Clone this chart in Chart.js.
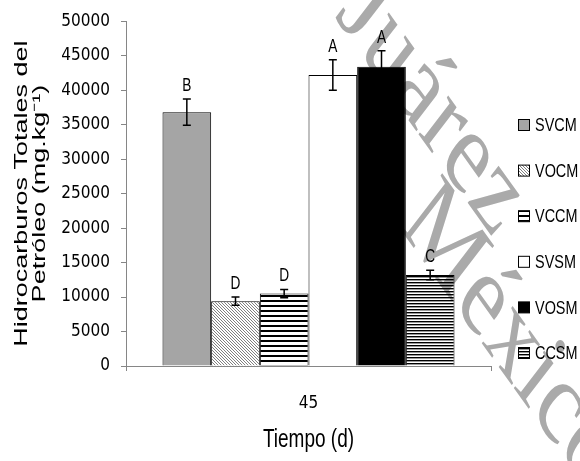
<!DOCTYPE html>
<html>
<head>
<meta charset="utf-8">
<script src="https://cdn.jsdelivr.net/npm/chart.js@4.4.0/dist/chart.umd.min.js"></script>
<style>
  html, body { margin: 0; padding: 0; background: #fff; }
  #wrap { width: 580px; height: 461px; }
</style>
</head>
<body>
<div id="wrap"><canvas id="myChart" width="580" height="461"></canvas></div>
<script>
// data
var categories = ['45'];
var series = ['SVCM', 'VOCM', 'VCCM', 'SVSM', 'VOSM', 'CCSM'];
var means = [36800, 9400, 10500, 42200, 43400, 13200];
var errors = [1900, 600, 600, 2200, 2300, 700];
var letters = ['B', 'D', 'D', 'A', 'A', 'C'];
var yMax = 50000, yStep = 5000;
var yTitle = ['Hidrocarburos Totales del', 'Petróleo (mg.kg⁻¹)'];
var xTitle = 'Tiempo (d)';
var watermark = ['Juárez', 'México'];

var COND = '"DejaVu Sans Condensed", "DejaVu Sans", sans-serif';
var SANS = '"Liberation Sans", Arial, sans-serif';
var SQUEEZE = 0.76; // the source figure is squeezed sideways
var ctx = document.getElementById('myChart').getContext('2d');

function makePattern(w, h, draw) {
  var c = document.createElement('canvas');
  c.width = w; c.height = h;
  var g = c.getContext('2d');
  g.fillStyle = '#fff';
  g.fillRect(0, 0, w, h);
  draw(g);
  return ctx.createPattern(c, 'repeat');
}

var diag = makePattern(3, 3, function (g) {
  g.fillStyle = '#808080';
  for (var i = 0; i < 3; i++) g.fillRect(i, i, 1, 1);
});
var stripes = makePattern(1, 5, function (g) {
  g.fillStyle = '#000';
  g.fillRect(0, 0, 1, 2);
});
var fineStripes = makePattern(1, 3, function (g) {
  g.fillStyle = '#000';
  g.fillRect(0, 0, 1, 1);
  g.fillStyle = '#9a9a9a';
  g.fillRect(0, 1, 1, 1);
});
var fills = ['#a5a5a5', diag, stripes, '#ffffff', '#000000', fineStripes];

var datasets = series.map(function (name, i) {
  return {
    label: name,
    data: [means[i]],
    backgroundColor: fills[i],
    borderColor: '#000',
    borderWidth: 1,
    categoryPercentage: 0.8,
    barPercentage: 1.0
  };
});

// horizontal text squeezed like in the original picture
function squeezed(c, text, x, y, align) {
  c.save();
  c.translate(x, y);
  c.scale(SQUEEZE, 1);
  c.textAlign = align || 'left';
  c.fillText(text, 0, 0);
  c.restore();
}

// error bars + significance letters
var errorPlugin = {
  id: 'errorbars',
  afterDatasetsDraw: function (chart) {
    var c = chart.ctx, y = chart.scales.y;
    c.save();
    c.strokeStyle = '#000';
    c.lineWidth = 1.5;
    c.fillStyle = '#000';
    c.font = '18px ' + SANS;
    c.textBaseline = 'alphabetic';
    chart.data.datasets.forEach(function (ds, i) {
      var bar = chart.getDatasetMeta(i).data[0];
      var top = y.getPixelForValue(means[i] + errors[i]);
      var bot = y.getPixelForValue(means[i] - errors[i]);
      c.beginPath();
      c.moveTo(bar.x, top); c.lineTo(bar.x, bot);
      c.moveTo(bar.x - 4, top); c.lineTo(bar.x + 4, top);
      c.moveTo(bar.x - 4, bot); c.lineTo(bar.x + 4, bot);
      c.stroke();
      squeezed(c, letters[i], bar.x, top - 8, 'center');
    });
    c.restore();
  }
};

// titles and legend
var sidePlugin = {
  id: 'side',
  afterDraw: function (chart) {
    var c = chart.ctx, area = chart.chartArea;
    var cy = (area.top + area.bottom) / 2;
    c.save();
    c.fillStyle = '#000';
    c.font = '18px ' + SANS;
    c.textAlign = 'center';
    c.textBaseline = 'alphabetic';
    [27, 45].forEach(function (bx, k) {
      c.save();
      c.translate(bx, cy);
      c.rotate(-Math.PI / 2);
      c.scale(1.5, 1);
      c.fillText(yTitle[k], 0, 0);
      c.restore();
    });

    c.font = '25px ' + SANS;
    c.textBaseline = 'middle';
    squeezed(c, xTitle, (area.left + area.right) / 2, 440, 'center');

    c.font = '19px ' + SANS;
    chart.data.datasets.forEach(function (ds, i) {
      var ly = 125 + i * 45.6;
      c.fillStyle = ds.backgroundColor;
      c.fillRect(518.5, ly - 5.5, 11, 11);
      c.strokeStyle = '#000';
      c.lineWidth = 1;
      c.strokeRect(518.5, ly - 5.5, 11, 11);
      c.fillStyle = '#000';
      squeezed(c, ds.label, 535, ly + 1, 'left');
    });
    c.restore();
  }
};

// watermark of the source document
var markPlugin = {
  id: 'mark',
  afterDraw: function (chart) {
    var c = chart.ctx;
    var spots = [[334, 16], [398, 226]];
    c.save();
    c.globalCompositeOperation = 'multiply';
    c.fillStyle = '#aaaaaa';
    c.font = '90px "Liberation Serif", "DejaVu Serif", serif';
    watermark.forEach(function (t, k) {
      c.save();
      c.scale(1, 1.35);
      c.translate(spots[k][0], spots[k][1] / 1.35);
      c.rotate(46 * Math.PI / 180);
      c.fillText(t, 0, 0);
      c.restore();
    });
    c.restore();
  }
};

var axisGray = '#868686';
new Chart(ctx, {
  type: 'bar',
  data: { labels: categories, datasets: datasets },
  options: {
    responsive: false,
    animation: false,
    layout: { padding: { top: 16, right: 89, left: 0, bottom: 0 } },
    plugins: {
      legend: { display: false },
      tooltip: { enabled: false }
    },
    scales: {
      x: {
        grid: { offset: true, drawOnChartArea: false, tickLength: 5, color: axisGray },
        border: { color: axisGray },
        ticks: { font: { family: COND, size: 17 }, color: '#000', padding: 22 },
        afterFit: function (s) { s.height = 95; }
      },
      y: {
        min: 0, max: yMax,
        ticks: {
          stepSize: yStep, color: '#000', padding: 11,
          font: { family: COND, size: 17 },
          callback: function (v) { return String(v); }
        },
        grid: { drawOnChartArea: false, tickLength: 5, color: axisGray },
        border: { color: axisGray },
        afterFit: function (s) { s.width = 126; }
      }
    }
  },
  plugins: [errorPlugin, sidePlugin, markPlugin]
});
</script>
</body>
</html>
